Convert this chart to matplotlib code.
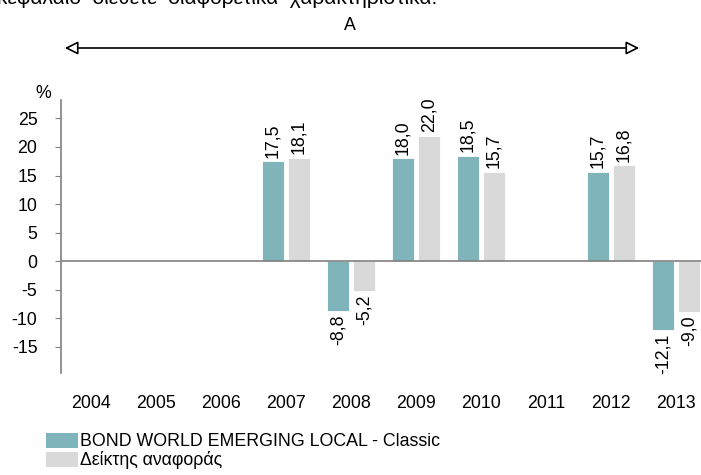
import matplotlib
matplotlib.use("Agg")
import matplotlib.pyplot as plt
import numpy as np
from matplotlib.patches import FancyArrowPatch, Rectangle

plt.rcParams['font.family'] = ['Liberation Sans', 'DejaVu Sans']

years = ['2004', '2005', '2006', '2007', '2008', '2009', '2010', '2011', '2012', '2013']
fund = [None, None, None, 17.5, -8.8, 18.0, 18.5, None, 15.7, -12.1]
bench = [None, None, None, 18.1, -5.2, 22.0, 15.7, None, 16.8, -9.0]
fund_label = 'BOND WORLD EMERGING LOCAL - Classic'
bench_label = 'Δείκτης αναφοράς'
yticks = [25, 20, 15, 10, 5, 0, -5, -10, -15]

teal = '#7fb5ba'
grey = '#d9d9d9'
axis_c = '#808080'
FS = 12.8

fig = plt.figure(figsize=(7.01, 4.75), dpi=100)
ax = fig.add_axes([61 / 701, 0.215, 640 / 701, 0.574])

x = np.arange(len(years))
w = 0.34
off = 0.2
for vals, dx, col in [(fund, -off, teal), (bench, off, grey)]:
    for xi, v in zip(x, vals):
        if v is None:
            continue
        ax.bar(xi + dx, v, width=w, color=col, edgecolor='white', linewidth=0.6, zorder=2)
        txt = f"{v:.1f}".replace('.', ',')
        if v >= 0:
            ax.text(xi + dx, v + 0.6, txt, rotation=90, ha='center', va='bottom', fontsize=FS)
        else:
            ax.text(xi + dx, v - 0.6, txt, rotation=90, ha='center', va='top', fontsize=FS)

ax.set_xlim(-0.46, 9.385)
ax.set_ylim(-19.6, 28.2)
ax.axhline(0, color=axis_c, lw=1.2, zorder=3)
for s in ['top', 'right', 'bottom']:
    ax.spines[s].set_visible(False)
ax.spines['left'].set_color(axis_c)
ax.spines['left'].set_linewidth(1.2)
ax.set_yticks(yticks)
ax.set_yticklabels([str(t) for t in yticks], fontsize=FS)
ax.tick_params(axis='y', length=4, color=axis_c, pad=13)
ax.set_xticks(x)
ax.set_xticklabels(years, fontsize=FS)
ax.tick_params(axis='x', length=0, pad=16)
ax.patch.set_visible(False)

fig.text(43 / 701, 1 - 102 / 475, '%', fontsize=FS, ha='center', va='bottom')

# arrow with label A
arr = FancyArrowPatch((62 / 701, 1 - 48 / 475), (642 / 701, 1 - 48 / 475),
                      transform=fig.transFigure, arrowstyle='<|-|>,head_length=0.8,head_width=0.4',
                      facecolor='white', edgecolor='black', lw=1.2, mutation_scale=10)
fig.patches.append(arr)
fig.text(350 / 701, 1 - 25 / 475, 'A', fontsize=FS, ha='center', va='center')

# cropped header text (cut at the top edge, as in the source)
fig.text(-3 / 701, 1 - 4 / 475, 'κεφάλαιο  διέθετε  διαφορετικά  χαρακτηριστικά.', fontsize=15,
         ha='left', va='baseline')

# legend
for i, (col, lab) in enumerate([(teal, fund_label), (grey, bench_label)]):
    y0 = 1 - (448 + i * 19) / 475
    fig.patches.append(Rectangle((46 / 701, y0), 32 / 701, 15 / 475,
                                 transform=fig.transFigure, facecolor=col, edgecolor='none'))
    fig.text(80 / 701, y0 + 7 / 475, lab, fontsize=FS, ha='left', va='center')

fig.savefig('out.png', dpi=100)
